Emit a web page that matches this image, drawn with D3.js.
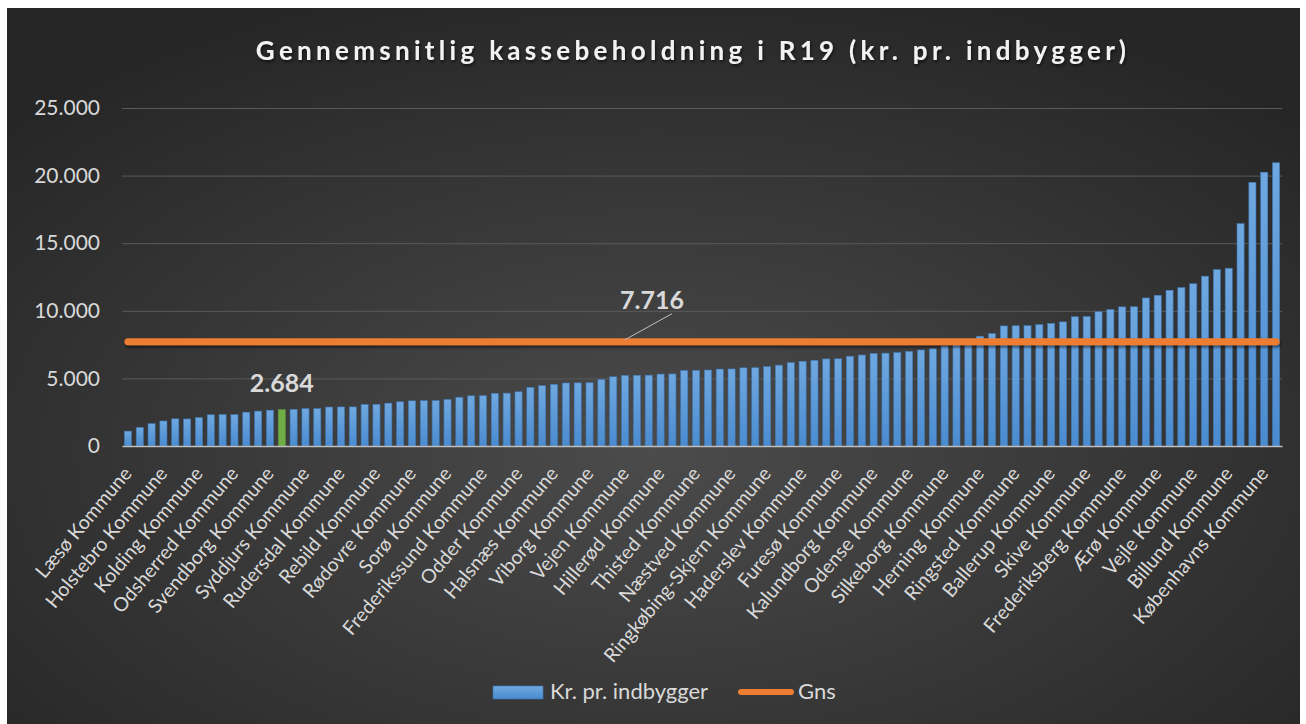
<!DOCTYPE html>
<html>
<head>
<meta charset="utf-8">
<script src="https://cdn.jsdelivr.net/npm/d3@7"></script>
<style>
  body { margin: 0; background: #fff; }
  text { font-family: Lato, "Open Sans", sans-serif; }
</style>
</head>
<body>
<div id="chart"></div>
<script>
// kr. pr. indbygger, sorted, one value per kommune (98)
const values = [
  1100, 1380, 1650, 1850, 2010, 2000, 2110, 2310, 2320, 2320,
  2500, 2580, 2650, 2684, 2710, 2770, 2770, 2880, 2890, 2890,
  3070, 3080, 3170, 3270, 3340, 3350, 3360, 3440, 3610, 3710,
  3720, 3900, 3910, 4010, 4340, 4460, 4560, 4660, 4670, 4680,
  4920, 5120, 5220, 5230, 5240, 5320, 5330, 5580, 5600, 5620,
  5690, 5700, 5780, 5790, 5870, 5980, 6170, 6270, 6340, 6440,
  6450, 6640, 6730, 6850, 6870, 6920, 7000, 7100, 7190, 7400,
  7500, 7620, 8120, 8320, 8880, 8890, 8900, 8980, 9070, 9180,
  9560, 9570, 9930, 10100, 10290, 10300, 10950, 11150, 11520, 11720,
  12000, 12560, 13050, 13150, 16450, 19500, 20250, 20950
];
// only every 3rd category name is shown on the axis
const tickLabels = [
  "Læsø Kommune", "Holstebro Kommune", "Kolding Kommune", "Odsherred Kommune",
  "Svendborg Kommune", "Syddjurs Kommune", "Rudersdal Kommune", "Rebild Kommune",
  "Rødovre Kommune", "Sorø Kommune", "Frederikssund Kommune", "Odder Kommune",
  "Halsnæs Kommune", "Viborg Kommune", "Vejen Kommune", "Hillerød Kommune",
  "Thisted Kommune", "Næstved Kommune", "Ringkøbing-Skjern Kommune", "Haderslev Kommune",
  "Furesø Kommune", "Kalundborg Kommune", "Odense Kommune", "Silkeborg Kommune",
  "Herning Kommune", "Ringsted Kommune", "Ballerup Kommune", "Skive Kommune",
  "Frederiksberg Kommune", "Ærø Kommune", "Vejle Kommune", "Billund Kommune",
  "Københavns Kommune"
];
const yTicks = [0, 5000, 10000, 15000, 20000, 25000];
const gnsValue = 7716;
const highlightIndex = 13;
const seriesNames = ["Kr. pr. indbygger", "Gns"];
const title = "Gennemsnitlig kassebeholdning i R19 (kr. pr. indbygger)";

const W = 1306, H = 724;
const fmt = v => d3.format(",")(v).replace(/,/g, ".");

const svg = d3.select("#chart").append("svg")
  .attr("width", W).attr("height", H);

const defs = svg.append("defs");
const bg = defs.append("radialGradient").attr("id", "bg")
  .attr("cx", "50%").attr("cy", "62%").attr("r", "68%");
bg.append("stop").attr("offset", "0%").attr("stop-color", "#4b4b4b");
bg.append("stop").attr("offset", "100%").attr("stop-color", "#262626");

const barGrad = defs.append("linearGradient").attr("id", "barGrad")
  .attr("x1", 0).attr("y1", 0).attr("x2", 0).attr("y2", 1);
barGrad.append("stop").attr("offset", "0%").attr("stop-color", "#6fa8e0");
barGrad.append("stop").attr("offset", "100%").attr("stop-color", "#4a8bd0");

// userSpace region so the flat Gns line still gets its shadow
const shadow = defs.append("filter").attr("id", "shadow")
  .attr("filterUnits", "userSpaceOnUse")
  .attr("x", 0).attr("y", 0).attr("width", W).attr("height", H);
shadow.append("feDropShadow").attr("dx", 1).attr("dy", 2).attr("stdDeviation", 1.5)
  .attr("flood-color", "#000").attr("flood-opacity", 0.6);

// background
svg.append("rect").attr("x", 7).attr("y", 8)
  .attr("width", 1293).attr("height", H - 8)
  .attr("fill", "url(#bg)");

// title
svg.append("text")
  .attr("x", 693).attr("y", 60)
  .attr("text-anchor", "middle")
  .attr("fill", "#f2f2f2")
  .attr("font-size", 26).attr("font-weight", "bold")
  .attr("letter-spacing", 4.3)
  .attr("filter", "url(#shadow)")
  .text(title);

const margin = {left: 122, right: 24, top: 108, bottom: 278};
const x = d3.scaleBand()
  .domain(d3.range(values.length))
  .range([margin.left, W - margin.right])
  .paddingInner(0.4).paddingOuter(0.2);
const y = d3.scaleLinear()
  .domain([0, 25000])
  .range([H - margin.bottom, margin.top]);

// gridlines + y labels
const yAxis = svg.append("g")
  .attr("transform", `translate(${margin.left},0)`)
  .call(d3.axisLeft(y).tickValues(yTicks).tickFormat(fmt)
    .tickSize(-(W - margin.left - margin.right)).tickPadding(22));
yAxis.select(".domain").remove();
yAxis.selectAll(".tick line").attr("stroke", "#5a5a5a").attr("stroke-width", 1);
yAxis.selectAll(".tick text").attr("fill", "#d9d9d9")
  .attr("font-size", 21).attr("font-family", "Lato, sans-serif");
yAxis.selectAll(".tick").filter(d => d === 0).select("line").remove();

// bars
svg.append("g").selectAll("rect")
  .data(values)
  .join("rect")
    .attr("x", (d, i) => x(i))
    .attr("y", d => y(d))
    .attr("width", x.bandwidth())
    .attr("height", d => y(0) - y(d))
    .attr("fill", (d, i) => i === highlightIndex ? "#70ad47" : "url(#barGrad)")
    .attr("stroke", (d, i) => i === highlightIndex ? "#5e9a3a" : "#3f78b5")
    .attr("stroke-width", 0.6);

// x axis line and labels
const xAxis = svg.append("g")
  .attr("transform", `translate(0,${y(0)})`)
  .call(d3.axisBottom(x)
    .tickValues(d3.range(0, values.length, 3))
    .tickSize(0)
    .tickFormat(i => tickLabels[i / 3]));
xAxis.select(".domain").attr("stroke", "#bfbfbf").attr("stroke-width", 1.5);
xAxis.selectAll(".tick text")
  .attr("fill", "#d9d9d9")
  .attr("font-size", 19.5)
  .attr("font-family", "Lato, sans-serif")
  .attr("text-anchor", "end")
  .attr("dy", 0).attr("y", 0)
  .attr("transform", "translate(5,28) rotate(-50)");

// Gns line
const gnsLine = d3.line()
  .x(i => x(i) + x.bandwidth() / 2)
  .y(() => y(gnsValue));
svg.append("path")
  .datum([0, values.length - 1])
  .attr("d", gnsLine)
  .attr("stroke", "#ed7d31")
  .attr("stroke-width", 7)
  .attr("stroke-linecap", "round")
  .attr("fill", "none")
  .attr("filter", "url(#shadow)");

// data labels
const gx = x(42) + x.bandwidth() / 2, gy = y(gnsValue);
svg.append("line")
  .attr("x1", gx).attr("y1", gy - 2).attr("x2", gx + 47).attr("y2", gy - 28)
  .attr("stroke", "#bfbfbf").attr("stroke-width", 1);
svg.append("text")
  .attr("x", gx + 27).attr("y", gy - 33)
  .attr("text-anchor", "middle").attr("fill", "#d9d9d9")
  .attr("font-size", 25).attr("font-weight", "bold")
  .text(fmt(gnsValue));

svg.append("text")
  .attr("x", x(highlightIndex) + x.bandwidth() / 2)
  .attr("y", y(values[highlightIndex]) - 18)
  .attr("text-anchor", "middle").attr("fill", "#d9d9d9")
  .attr("font-size", 25).attr("font-weight", "bold")
  .text(fmt(values[highlightIndex]));

// legend
const lg = svg.append("g").attr("transform", "translate(493,686)");
lg.append("rect").attr("width", 50).attr("height", 13)
  .attr("fill", "url(#barGrad)").attr("stroke", "#3f78b5").attr("stroke-width", 0.6);
lg.append("text").attr("x", 57).attr("y", 13)
  .attr("fill", "#d9d9d9").attr("font-size", 22).text(seriesNames[0]);
lg.append("line").attr("x1", 248).attr("x2", 298).attr("y1", 6).attr("y2", 6)
  .attr("stroke", "#ed7d31").attr("stroke-width", 6).attr("stroke-linecap", "round");
lg.append("text").attr("x", 305).attr("y", 13)
  .attr("fill", "#d9d9d9").attr("font-size", 22).text(seriesNames[1]);
</script>
</body>
</html>
